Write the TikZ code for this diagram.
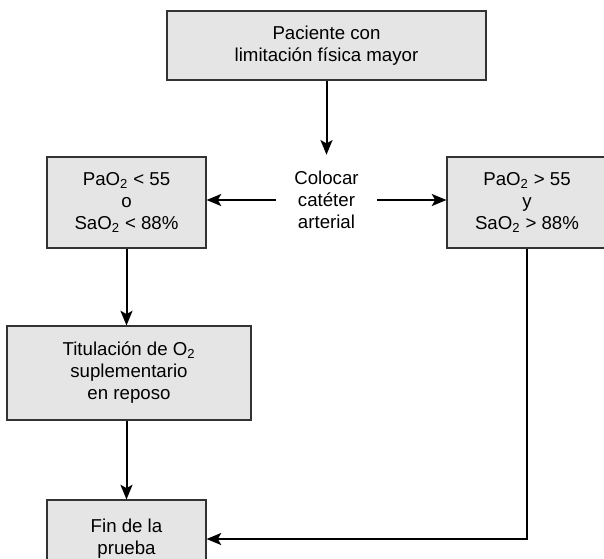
\documentclass[tikz,border=0pt]{standalone}
\usepackage{fontspec}
\setmainfont{Liberation Sans}
\usetikzlibrary{arrows.meta}

\begin{document}
\begin{tikzpicture}[
  x=0.75pt,y=-0.75pt,
  box/.style={draw=black!80,line width=0.8pt,fill=black!10,align=center,inner sep=0pt},
  flow/.style={-{Stealth[length=11pt,width=9pt,inset=2.5pt]},line width=1.5pt},
  every node/.append style={font=\fontsize{14}{16.5}\selectfont}
]
  \useasboundingbox (0,0) rectangle (604,558);
  \clip (0,0) rectangle (604,558);
  \node[box,minimum width=239.25pt,minimum height=51.75pt] (paciente) at (326.5,45.5) {Paciente con\\limitación física mayor};
  \node[align=center,inner sep=0pt,minimum width=75.75pt,minimum height=67.5pt] (cateter) at (326.5,200) {Colocar\\catéter\\arterial};
  \node[box,minimum width=119.25pt,minimum height=68.25pt] (bajo) at (126.5,202.5) {PaO\textsubscript{2} < 55\\o\\SaO\textsubscript{2} < 88\%};
  \node[box,minimum width=120pt,minimum height=68.25pt] (alto) at (527,202.5) {PaO\textsubscript{2} > 55\\y\\SaO\textsubscript{2} > 88\%};
  \node[box,minimum width=183pt,minimum height=70.5pt] (titulacion) at (129,373) {Titulación de O\textsubscript{2}\\suplementario\\en reposo};
  \node[box,minimum width=119.25pt,minimum height=58.5pt] (fin) at (126.5,539) {Fin de la\\prueba};

  \draw[flow] (paciente.south -| cateter) -- (cateter.north);
  \draw[flow] (cateter.west) -- (cateter.west -| bajo.east);
  \draw[flow] (cateter.east) -- (cateter.east -| alto.west);
  \draw[flow] (bajo.south) -- (bajo.south |- titulacion.north);
  \draw[flow] (titulacion.south -| bajo) -- (fin.north -| bajo);
  \draw[flow] (alto.south) |- (fin.east);
\end{tikzpicture}
\end{document}
